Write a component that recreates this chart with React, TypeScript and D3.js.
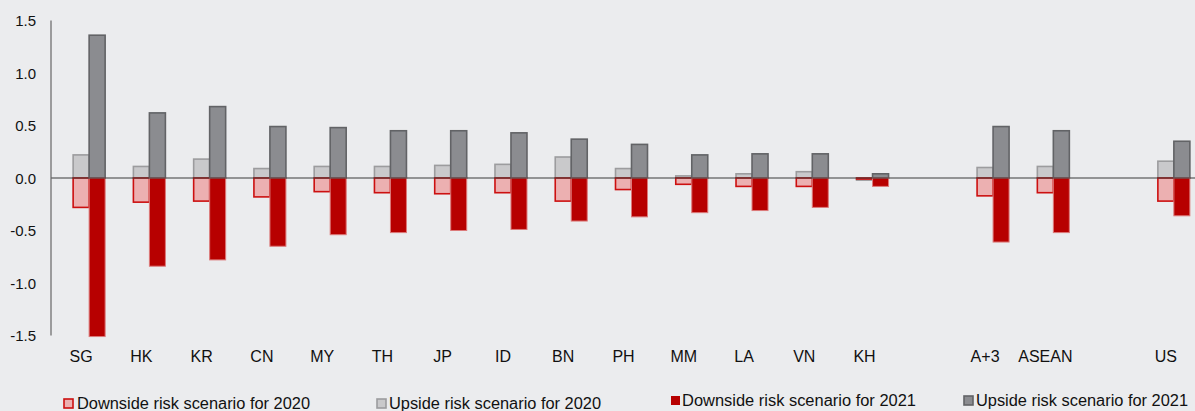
import React from "react";
import * as d3 from "d3";

const categories = ["SG","HK","KR","CN","MY","TH","JP","ID","BN","PH","MM","LA","VN","KH","","A+3","ASEAN","","US"];
const down2020 = [-0.28,-0.23,-0.22,-0.18,-0.13,-0.14,-0.15,-0.14,-0.22,-0.11,-0.06,-0.08,-0.08,-0.01,null,-0.17,-0.14,null,-0.22];
const up2020 = [0.22,0.11,0.18,0.09,0.11,0.11,0.12,0.13,0.20,0.09,0.02,0.04,0.06,-0.02,null,0.10,0.11,null,0.16];
const down2021 = [-1.51,-0.84,-0.78,-0.65,-0.54,-0.52,-0.50,-0.49,-0.41,-0.37,-0.33,-0.31,-0.28,-0.08,null,-0.61,-0.52,null,-0.36];
const up2021 = [1.36,0.62,0.68,0.49,0.48,0.45,0.45,0.43,0.37,0.32,0.22,0.23,0.23,0.04,null,0.49,0.45,null,0.35];
const yTicks = [-1.5,-1.0,-0.5,0.0,0.5,1.0,1.5];
const legendLabels = [
  "Downside risk scenario for 2020",
  "Upside risk scenario for 2020",
  "Downside risk scenario for 2021",
  "Upside risk scenario for 2021",
];

const W = 1195, H = 411;
const FONT = "'Liberation Sans', Arial, sans-serif";

const styles = {
  down2020: { fill: "#ecb0b1", stroke: "#cc1010", sw: 1.6 },
  up2020: { fill: "#c9c9cb", stroke: "#9c9c9e", sw: 1.6 },
  down2021: { fill: "#b70000", stroke: "#dc7a7a", sw: 1 },
  up2021: { fill: "#8b8c90", stroke: "#626366", sw: 1.6 },
};

export default function App() {
  const x = d3.scaleBand<number>().domain(categories.map((_, i) => i)).range([51, 1196]).padding(0);
  const y = d3.scaleLinear().domain([-1.5, 1.5]).range([335.5, 20.5]);
  const barW = 16;
  const fmt = (v: number) => d3.format(".1f")(v).replace("\u2212", "-");

  const bar = (vals: (number | null)[], off: number, st: any, key: string) =>
    vals.map((v, i) => {
      if (v === null) return null;
      const cx = (x(i) as number) + x.bandwidth() / 2;
      const y0 = y(0), y1 = y(v);
      const top = Math.min(y0, y1), h = Math.abs(y1 - y0);
      return (
        <rect key={key + i} x={cx + off} y={top} width={barW} height={Math.max(h, 0.5)}
          fill={st.fill} stroke={st.stroke} strokeWidth={st.sw} />
      );
    });

  const legend = [
    { st: styles.down2020, bx: 64, tx: 77, tw: 233, base: 409 },
    { st: styles.up2020, bx: 377, tx: 389, tw: 212, base: 409 },
    { st: styles.down2021, bx: 671, tx: 682, tw: 234, base: 406 },
    { st: styles.up2021, bx: 964, tx: 976, tw: 212, base: 406 },
  ];

  return (
    <svg width={W} height={H} style={{ position: "absolute", left: 0, top: 0, display: "block" }}
      fontFamily={FONT}>
      <rect x={0} y={0} width={W} height={H} fill="#ebecee" />
      {bar(up2020, -8, styles.up2020, "u0")}
      {bar(down2020, -8, styles.down2020, "d0")}
      {bar(up2021, 8, styles.up2021, "u1")}
      {bar(down2021, 8, styles.down2021, "d1")}
      <line x1={51} x2={1195} y1={y(0)} y2={y(0)} stroke="#3a3a3a" strokeWidth={1.2} />
      <line x1={51} x2={51} y1={y(1.5)} y2={y(-1.5)} stroke="#666" strokeWidth={1.2} />
      {yTicks.map((t) => (
        <text key={"t" + t} x={36} y={y(t)} textAnchor="end" dominantBaseline="central"
          fontSize={15} fill="#111">{fmt(t)}</text>
      ))}
      {categories.map((c, i) => c ? (
        <text key={"c" + i} x={(x(i) as number) + x.bandwidth() / 2} y={362} textAnchor="middle"
          fontSize={16} fill="#111">{c}</text>
      ) : null)}
      {legend.map((l, i) => (
        <g key={"l" + i}>
          <rect x={l.bx} y={l.base - 10} width={9} height={9} fill={l.st.fill}
            stroke={l.st.stroke} strokeWidth={i === 2 ? 0 : 1.6} />
          <text x={l.tx} y={l.base} fontSize={16} fill="#111" textLength={l.tw}
            lengthAdjust="spacingAndGlyphs">{legendLabels[i]}</text>
        </g>
      ))}
    </svg>
  );
}
